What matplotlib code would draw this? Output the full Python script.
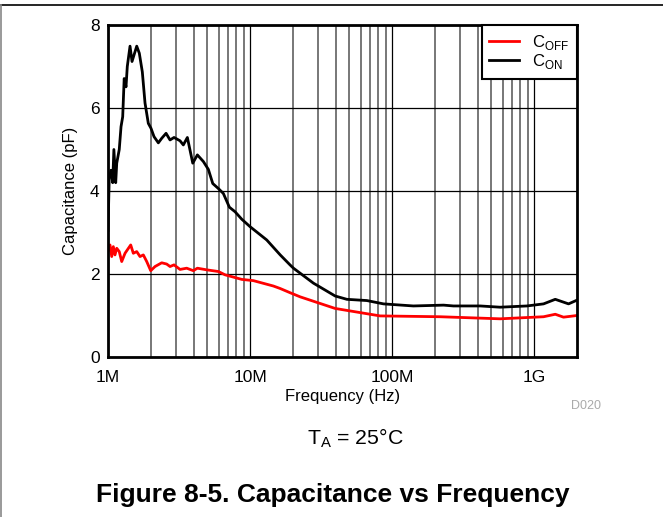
import numpy as np
import matplotlib
matplotlib.use('Agg')
import matplotlib.pyplot as plt
from matplotlib.lines import Line2D
from matplotlib.ticker import FixedLocator, NullFormatter

plt.rcParams['font.family'] = ['Liberation Sans', 'DejaVu Sans']
plt.rcParams['mathtext.fontset'] = 'custom'
plt.rcParams['mathtext.rm'] = 'Liberation Sans'

# frequencies in MHz, capacitance in pF
f_on = [1.0, 1.02, 1.05, 1.079, 1.10, 1.133, 1.152, 1.20, 1.235, 1.269, 1.30, 1.339,
        1.367, 1.429, 1.476, 1.593, 1.661, 1.744, 1.822, 1.922, 2.008, 2.108, 2.261,
        2.388, 2.562, 2.733, 2.916, 3.214, 3.39, 3.619, 3.95, 4.256, 4.69, 5.086,
        5.462, 5.98, 6.486, 7.15, 7.84, 8.74, 10.0, 13.1, 16.3, 19.1, 20.2, 27.9,
        39.7, 48, 66.4, 86.9, 141, 230, 270, 417, 575, 889, 1163, 1406, 1744, 2000]
c_on = [3.05, 4.3, 4.5, 4.2, 5.0, 4.2, 4.67, 5.0, 5.55, 5.79, 6.71, 6.51,
        7.0, 7.49, 7.12, 7.49, 7.32, 6.87, 6.12, 5.63, 5.51, 5.31, 5.16,
        5.27, 5.39, 5.23, 5.29, 5.21, 5.11, 5.29, 4.67, 4.87, 4.71, 4.52,
        4.18, 4.06, 3.94, 3.61, 3.50, 3.32, 3.14, 2.82, 2.46, 2.22, 2.14, 1.78,
        1.47, 1.39, 1.36, 1.28, 1.23, 1.25, 1.23, 1.23, 1.20, 1.23, 1.28, 1.39, 1.28, 1.37]

f_off = [1.0, 1.033, 1.062, 1.09, 1.12, 1.152, 1.20, 1.249, 1.318, 1.367, 1.445,
         1.507, 1.593, 1.68, 1.773, 1.873, 1.998, 2.143, 2.388, 2.588, 2.733, 2.916,
         3.214, 3.58, 3.988, 4.256, 4.955, 5.98, 6.668, 8.74, 10.55, 14.6, 16.3,
         19.1, 22.5, 39.7, 82.3, 218, 575, 1163, 1406, 1607, 2000]
c_off = [2.55, 2.70, 2.42, 2.66, 2.46, 2.62, 2.54, 2.30, 2.50, 2.58, 2.70,
         2.50, 2.54, 2.42, 2.46, 2.30, 2.08, 2.18, 2.27, 2.24, 2.18, 2.22,
         2.11, 2.14, 2.08, 2.14, 2.10, 2.06, 1.98, 1.87, 1.84, 1.71, 1.65,
         1.55, 1.45, 1.17, 0.99, 0.97, 0.92, 0.97, 1.03, 0.96, 1.00]

xticks = [1e6, 1e7, 1e8, 1e9]
xticklabels = ['1M', '10M', '100M', '1G']
yticks = [0, 2, 4, 6, 8]

fig = plt.figure(figsize=(6.63, 5.17), dpi=100)
ax = fig.add_axes([108/663, 1-357/517, 469/663, 332/517])

ax.plot(np.array(f_off)*1e6, c_off, color='#ff0000', lw=2, label=r'C$_{\mathrm{OFF}}$')
ax.plot(np.array(f_on)*1e6, c_on, color='black', lw=2, label=r'C$_{\mathrm{ON}}$')

ax.set_xscale('log')
ax.set_xlim(1e6, 2e9)
ax.set_ylim(0, 8)
ax.set_xticks(xticks)
ax.set_xticklabels(xticklabels)
ax.set_yticks(yticks)
minors = [m*10**e for e in range(6, 10) for m in range(2, 10) if m*10**e < 2e9]
ax.xaxis.set_minor_locator(FixedLocator(minors))
ax.xaxis.set_minor_formatter(NullFormatter())
ax.grid(True, which='major', color='black', lw=0.9)
ax.grid(True, which='minor', axis='x', color='#777777', lw=1.4)
ax.tick_params(which='both', length=0, labelsize=12.5)
ax.tick_params(axis='x', pad=9)
ax.tick_params(axis='y', pad=6)
for s in ax.spines.values():
    s.set_linewidth(2)

ax.set_xlabel('Frequency (Hz)', fontsize=12, labelpad=3)
ax.set_ylabel('Capacitance (pF)', fontsize=12, labelpad=9)

leg = ax.legend(loc='upper right', borderaxespad=0, fancybox=False, fontsize=12,
                handlelength=1.8, framealpha=1, edgecolor='black', borderpad=0.45,
                labelspacing=0.05)
leg.get_frame().set_linewidth(1.5)

fig.text(586/663, 1-406/517, 'D020', color='#aaaaaa', fontsize=9, ha='center', va='center')
fig.text(355/663, 1-438/517, r'T$_{\mathrm{A}}$ = 25°C', fontsize=15.3, ha='center', va='center')
fig.text(333/663, 1-495/517, 'Figure 8-5. Capacitance vs Frequency', fontsize=19,
         fontweight='bold', ha='center', va='center')

fig.add_artist(Line2D([0.001, 1.0], [1-5/517, 1-5/517], color='black', lw=1.2))
fig.add_artist(Line2D([0.001, 0.001], [0, 1-5/517], color='#888888', lw=1.2))

fig.savefig('out.png', dpi=100)
